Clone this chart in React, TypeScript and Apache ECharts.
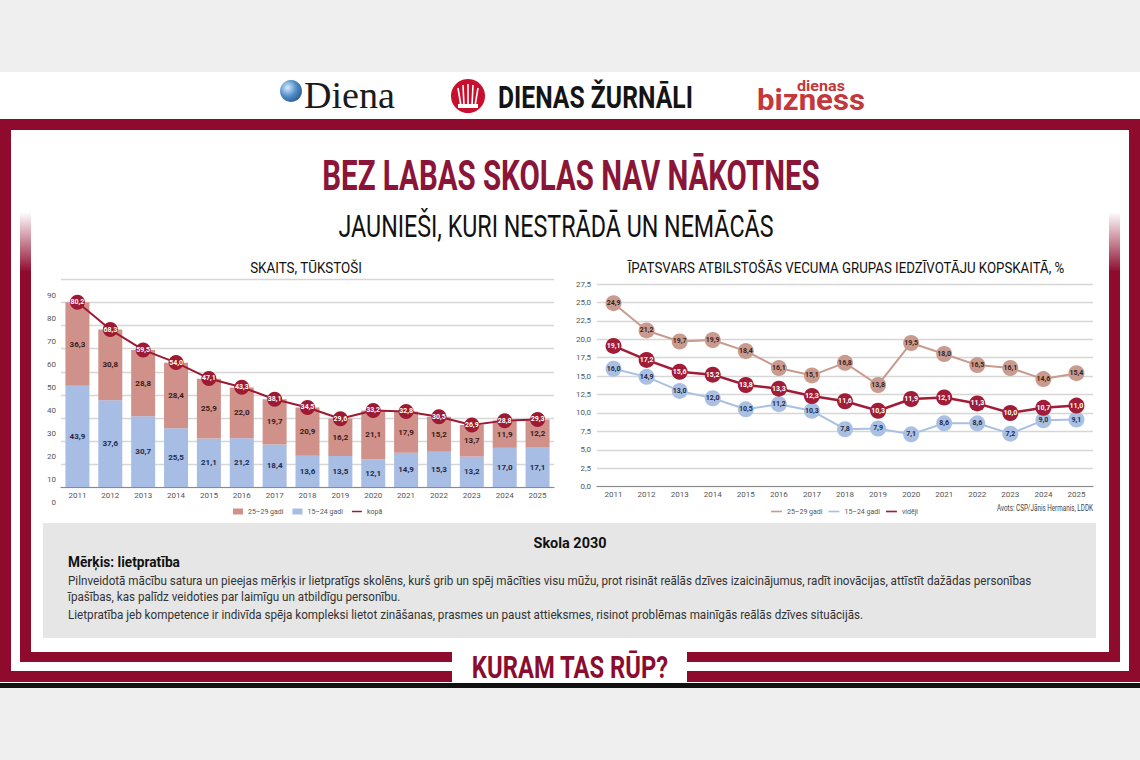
import React, { useEffect, useRef } from "react";
import * as echarts from "echarts";

const years = ["2011", "2012", "2013", "2014", "2015", "2016", "2017", "2018", "2019", "2020", "2021", "2022", "2023", "2024", "2025"];
const count1524 = [43.9, 37.6, 30.7, 25.5, 21.1, 21.2, 18.4, 13.6, 13.5, 12.1, 14.9, 15.3, 13.2, 17.0, 17.1];
const count2529 = [36.3, 30.8, 28.8, 28.4, 25.9, 22.0, 19.7, 20.9, 16.2, 21.1, 17.9, 15.2, 13.7, 11.9, 12.2];
const countTotal = [80.2, 68.3, 59.5, 54.0, 47.1, 43.3, 38.1, 34.5, 29.6, 33.2, 32.8, 30.5, 26.9, 28.8, 29.3];
const share2529 = [24.9, 21.2, 19.7, 19.9, 18.4, 16.1, 15.1, 16.8, 13.8, 19.5, 18.0, 16.5, 16.1, 14.6, 15.4];
const share1524 = [16.0, 14.9, 13.0, 12.0, 10.5, 11.2, 10.3, 7.8, 7.9, 7.1, 8.6, 8.6, 7.2, 9.0, 9.1];
const shareAvg = [19.1, 17.2, 15.6, 15.2, 13.8, 13.3, 12.3, 11.6, 10.3, 11.9, 12.1, 11.3, 10.0, 10.7, 11.0];

const legendLeft = ["25–29 gadi", "15–24 gadi", "kopā"];
const legendRight = ["25–29 gadi (%)", "15–24 gadi (%)", "vidēji"];

const bodyLines = [
  "Pilnveidotā mācību satura un pieejas mērķis ir lietpratīgs skolēns, kurš grib un spēj mācīties visu mūžu, prot risināt reālās dzīves izaicinājumus, radīt inovācijas, attīstīt dažādas personības",
  "īpašības, kas palīdz veidoties par laimīgu un atbildīgu personību.",
  "Lietpratība jeb kompetence ir indivīda spēja kompleksi lietot zināšanas, prasmes un paust attieksmes, risinot problēmas mainīgās reālās dzīves situācijās.",
];

const SANS = '"Roboto", "Liberation Sans", sans-serif';
const SERIF = '"Liberation Serif", "DejaVu Serif", serif';
const RED = "#8f0b2e";
const fmt = (v: number) => v.toFixed(1).replace(".", ",");

let measureCtx: CanvasRenderingContext2D | null = null;
function measure(text: string, size: number, weight: string, family: string) {
  if (!measureCtx) measureCtx = document.createElement("canvas").getContext("2d");
  if (!measureCtx) return text.length * size * 0.55;
  measureCtx.font = `${weight} ${size}px ${family}`;
  return measureCtx.measureText(text).width;
}

// text squeezed horizontally to a target width (the reference uses a condensed face)
function fitText(text: string, x: number, y: number, size: number, weight: string, family: string, fill: string, targetW: number, align: string = "left") {
  const w = measure(text, size, weight, family);
  const s = targetW / w;
  return {
    type: "text",
    x,
    y,
    scaleX: s,
    style: { text, fill, fontSize: size, fontWeight: weight, fontFamily: family, align, verticalAlign: "middle" },
  };
}

function buildOption() {
  const lineIcon = "path://M0 0h20v3H0z";
  const bodyScale = 965 / measure(bodyLines[0], 12.5, "normal", SANS);
  const graphic: any[] = [
    { type: "rect", shape: { x: 0, y: 72, width: 1140, height: 611 }, style: { fill: "#ffffff" }, silent: true },
    // logos
    {
      type: "circle",
      shape: { cx: 291, cy: 91, r: 11 },
      style: {
        fill: new echarts.graphic.RadialGradient(0.35, 0.35, 0.8, [
          { offset: 0, color: "#d7ecff" },
          { offset: 0.5, color: "#4f8cc9" },
          { offset: 1, color: "#24507f" },
        ]),
      },
    },
    fitText("Diena", 304, 95, 38, "normal", SERIF, "#1a1a1a", 91),
    { type: "circle", shape: { cx: 468, cy: 96, r: 17 }, style: { fill: "#c8102e" } },
    { type: "polyline", shape: { points: [[461, 106], [458, 88]] }, style: { stroke: "#fff", lineWidth: 1.6 } },
    { type: "polyline", shape: { points: [[464, 106], [463, 85]] }, style: { stroke: "#fff", lineWidth: 1.6 } },
    { type: "polyline", shape: { points: [[468, 106], [468, 84]] }, style: { stroke: "#fff", lineWidth: 1.6 } },
    { type: "polyline", shape: { points: [[472, 106], [473, 85]] }, style: { stroke: "#fff", lineWidth: 1.6 } },
    { type: "polyline", shape: { points: [[475, 106], [478, 88]] }, style: { stroke: "#fff", lineWidth: 1.6 } },
    { type: "rect", shape: { x: 458, y: 104, width: 20, height: 4 }, style: { fill: "#fff" } },
    fitText("DIENAS ŽURNĀLI", 498, 97, 31, "bold", SANS, "#141414", 195),
    fitText("dienas", 821, 86, 15, "bold", SANS, "#c4373a", 48, "center"),
    fitText("bizness", 811, 100, 29, "bold", SANS, "#c4373a", 108, "center"),
    // outer frame
    { type: "rect", shape: { x: 0, y: 119, width: 1140, height: 11 }, style: { fill: RED } },
    { type: "rect", shape: { x: 0, y: 119, width: 11, height: 563 }, style: { fill: RED } },
    { type: "rect", shape: { x: 1129, y: 119, width: 11, height: 563 }, style: { fill: RED } },
    { type: "rect", shape: { x: 0, y: 671, width: 1140, height: 11 }, style: { fill: RED } },
    // inner frame
    {
      type: "rect",
      shape: { x: 20, y: 212, width: 11, height: 60 },
      style: { fill: new echarts.graphic.LinearGradient(0, 0, 0, 1, [{ offset: 0, color: "rgba(143,11,46,0)" }, { offset: 1, color: RED }]) },
    },
    {
      type: "rect",
      shape: { x: 1109, y: 212, width: 11, height: 60 },
      style: { fill: new echarts.graphic.LinearGradient(0, 0, 0, 1, [{ offset: 0, color: "rgba(143,11,46,0)" }, { offset: 1, color: RED }]) },
    },
    { type: "rect", shape: { x: 20, y: 271, width: 11, height: 391 }, style: { fill: RED } },
    { type: "rect", shape: { x: 1109, y: 271, width: 11, height: 391 }, style: { fill: RED } },
    { type: "rect", shape: { x: 20, y: 652, width: 1100, height: 10 }, style: { fill: RED } },
    { type: "rect", shape: { x: 0, y: 683, width: 1140, height: 5 }, style: { fill: "#111" } },
    { type: "rect", shape: { x: 452, y: 646, width: 235, height: 37 }, style: { fill: "#fff" } },
    fitText("KURAM TAS RŪP?", 570, 667, 32, "bold", SANS, "#8a0d2f", 197, "center"),
    // titles
    fitText("BEZ LABAS SKOLAS NAV NĀKOTNES", 571, 176, 42, "bold", SANS, "#8a1538", 498, "center"),
    fitText("JAUNIEŠI, KURI NESTRĀDĀ UN NEMĀCĀS", 556, 227, 31, "normal", SANS, "#111", 435, "center"),
    fitText("SKAITS, TŪKSTOŠI", 306, 268, 14, "normal", SANS, "#111", 112, "center"),
    fitText("ĪPATSVARS ATBILSTOŠĀS VECUMA GRUPAS IEDZĪVOTĀJU KOPSKAITĀ, %", 846, 268, 14, "normal", SANS, "#111", 437, "center"),
    fitText("Avots: CSP/Jānis Hermanis, LDDK", 1093, 508, 8.5, "normal", SANS, "#444", 96, "right"),
    // gray box
    { type: "rect", shape: { x: 43, y: 523, width: 1053, height: 115 }, style: { fill: "#e6e6e6" } },
    fitText("Skola 2030", 570, 543, 14, "bold", SANS, "#111", 73, "center"),
    fitText("Mērķis: lietpratība", 68, 562, 14, "bold", SANS, "#111", 112),
    ...bodyLines.map((t, i) => ({
      type: "text",
      x: 68,
      y: [581, 597, 615][i],
      scaleX: bodyScale,
      style: { text: t, fill: "#333", fontSize: 12.5, fontFamily: SANS, verticalAlign: "middle" },
    })),
  ];

  const axisText = { fontSize: 8, color: "#555", fontFamily: SANS };

  return {
    animation: false,
    textStyle: { fontFamily: SANS },
    graphic,
    grid: [
      // left chart plot area (0..90)
      { left: 61, top: 279.6, width: 493, height: 207.4 },
      // right chart plot area
      { left: 597, top: 284, width: 496, height: 202.7 },
      // left chart tick-label column (labels sit half a row above their lines, one step lower)
      { left: 61, top: 272.1, width: 493, height: 230.4 },
    ],
    legend: [
      {
        left: 228,
        top: 503,
        itemWidth: 10,
        itemHeight: 6,
        itemGap: 9,
        textStyle: { fontSize: 7, color: "#555", fontFamily: SANS },
        data: [
          { name: legendLeft[0], icon: "rect" },
          { name: legendLeft[1], icon: "rect" },
          { name: legendLeft[2], icon: lineIcon },
        ],
      },
      {
        left: 766,
        top: 503,
        itemWidth: 11,
        itemHeight: 5,
        itemGap: 6,
        textStyle: { fontSize: 7, color: "#555", fontFamily: SANS },
        formatter: (n: string) => n.replace(" (%)", ""),
        data: legendRight.map((n) => ({ name: n, icon: lineIcon })),
      },
    ],
    xAxis: [
      {
        type: "category",
        gridIndex: 0,
        data: years,
        axisLine: { lineStyle: { color: "#8a8a8a", width: 1.2 } },
        axisTick: { show: false },
        axisLabel: { ...axisText, margin: 4 },
      },
      {
        type: "category",
        gridIndex: 1,
        data: years,
        boundaryGap: true,
        axisLine: { lineStyle: { color: "#8a8a8a", width: 1.2 } },
        axisTick: { show: false },
        axisLabel: { ...axisText, margin: 4 },
      },
      { type: "category", gridIndex: 2, data: years, show: false },
    ],
    yAxis: [
      {
        type: "value",
        gridIndex: 0,
        min: 0,
        max: 90,
        interval: 10,
        axisLine: { show: false },
        axisTick: { show: false },
        axisLabel: { show: false },
        splitLine: { lineStyle: { color: "#d6d6d6", width: 1.3 } },
      },
      {
        type: "value",
        gridIndex: 1,
        min: 0,
        max: 27.5,
        interval: 2.5,
        axisLine: { show: false },
        axisTick: { show: false },
        splitLine: { lineStyle: { color: "#d6d6d6", width: 1.3 } },
        axisLabel: { ...axisText, margin: 6, formatter: (v: number) => fmt(v) },
      },
      {
        type: "value",
        gridIndex: 2,
        min: 0,
        max: 100,
        interval: 10,
        axisLine: { show: false },
        axisTick: { show: false },
        splitLine: { show: false },
        axisLabel: { ...axisText, margin: 5, showMinLabel: true, formatter: (v: number) => (v >= 100 ? "" : String(v)) },
      },
    ],
    series: [
      {
        name: legendLeft[1],
        type: "bar",
        stack: "count",
        xAxisIndex: 0,
        yAxisIndex: 0,
        barWidth: 24,
        data: count1524,
        itemStyle: { color: "#a8bde3" },
        label: { show: true, position: "inside", fontSize: 8, fontWeight: "bold", color: "#1c2b4d", formatter: (p: any) => fmt(p.value) },
      },
      {
        name: legendLeft[0],
        type: "bar",
        stack: "count",
        xAxisIndex: 0,
        yAxisIndex: 0,
        barWidth: 24,
        data: count2529,
        itemStyle: { color: "#d0918a" },
        label: { show: true, position: "inside", fontSize: 8, fontWeight: "bold", color: "#3b1a1a", formatter: (p: any) => fmt(p.value) },
      },
      {
        name: legendLeft[2],
        type: "line",
        xAxisIndex: 0,
        yAxisIndex: 0,
        data: countTotal,
        z: 5,
        symbol: "circle",
        symbolSize: 15,
        itemStyle: { color: "#9e1a32" },
        lineStyle: { color: "#9e1a32", width: 2 },
        label: { show: true, position: "inside", fontSize: 7, fontWeight: "bold", color: "#fff", formatter: (p: any) => fmt(p.value) },
      },
      {
        name: legendRight[0],
        type: "line",
        xAxisIndex: 1,
        yAxisIndex: 1,
        data: share2529,
        symbol: "circle",
        symbolSize: 16,
        itemStyle: { color: "#c99b8e" },
        lineStyle: { color: "#c99b8e", width: 2 },
        label: { show: true, position: "inside", fontSize: 7, fontWeight: "bold", color: "#3a1f1f", formatter: (p: any) => fmt(p.value) },
      },
      {
        name: legendRight[1],
        type: "line",
        xAxisIndex: 1,
        yAxisIndex: 1,
        data: share1524,
        symbol: "circle",
        symbolSize: 16,
        itemStyle: { color: "#aac0e3" },
        lineStyle: { color: "#aac0e3", width: 2 },
        label: { show: true, position: "inside", fontSize: 7, fontWeight: "bold", color: "#1c2a4a", formatter: (p: any) => fmt(p.value) },
      },
      {
        name: legendRight[2],
        type: "line",
        xAxisIndex: 1,
        yAxisIndex: 1,
        data: shareAvg,
        z: 5,
        symbol: "circle",
        symbolSize: 16,
        itemStyle: { color: "#a11c36" },
        lineStyle: { color: "#a11c36", width: 2.5 },
        label: { show: true, position: "inside", fontSize: 7, fontWeight: "bold", color: "#fff", formatter: (p: any) => fmt(p.value) },
      },
    ],
  };
}

export default function App() {
  const ref = useRef<HTMLDivElement>(null);
  useEffect(() => {
    if (!ref.current) return;
    const chart = echarts.init(ref.current, undefined, { renderer: "svg" });
    chart.setOption(buildOption() as any);
    return () => chart.dispose();
  }, []);
  return (
    <div
      ref={ref}
      style={{ position: "fixed", left: 0, top: 0, width: 1140, height: 760, background: "#efefef" }}
    />
  );
}
